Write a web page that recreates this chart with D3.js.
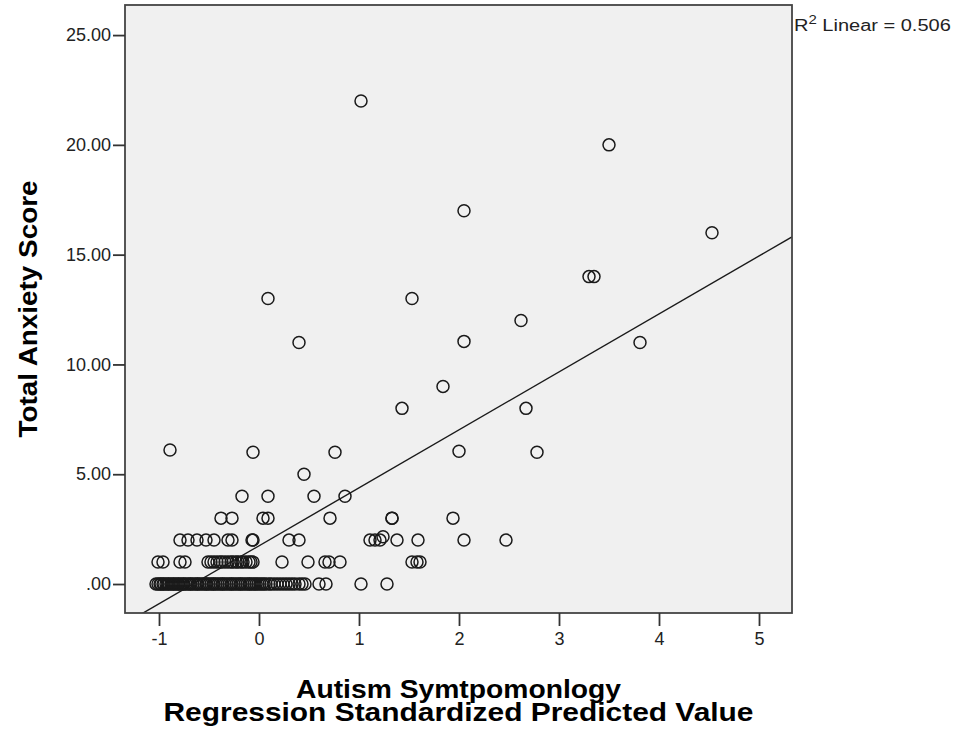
<!DOCTYPE html>
<html>
<head>
<meta charset="utf-8">
<script src="https://cdn.jsdelivr.net/npm/d3@7"></script>
<style>
  body { margin: 0; background: #fff; }
  svg { display: block; font-family: "Liberation Sans", Arial, sans-serif; }
</style>
</head>
<body>
<div id="chart"></div>
<script>
// points grouped by anxiety score, x = standardized predicted value
var score0 = [-1.03,-1.01,-0.99,-0.98,-0.96,-0.95,-0.93,-0.91,-0.90,-0.88,-0.86,-0.85,-0.83,-0.81,-0.80,-0.78,-0.76,-0.75,-0.73,-0.71,-0.69,-0.68,-0.66,-0.64,-0.62,-0.61,-0.59,-0.57,-0.55,-0.53,-0.52,-0.50,-0.48,-0.46,-0.45,-0.43,-0.41,-0.39,-0.37,-0.36,-0.34,-0.32,-0.30,-0.28,-0.27,-0.25,-0.23,-0.21,-0.19,-0.18,-0.16,-0.14,-0.12,-0.10,-0.09,-0.07,-0.05,-0.03,-0.01,0.01,0.03,0.05,0.07,0.10,0.12,0.15,0.18,0.21,0.24,0.27,0.30,0.33,0.36,0.40,0.43,0.46,0.60,0.67,1.02,1.28]
var score1 = [-1.01,-0.96,-0.79,-0.74,-0.51,-0.48,-0.45,-0.42,-0.39,-0.37,-0.34,-0.31,-0.28,-0.26,-0.23,-0.21,-0.18,-0.16,-0.13,-0.10,-0.08,-0.06,0.23,0.49,0.66,0.70,0.81,1.53,1.58,1.61]
var score2 = [-0.79,-0.71,-0.62,-0.53,-0.45,-0.31,-0.27,-0.07,-0.06,0.30,0.40,1.11,1.16,1.21,1.38,1.59,2.05,2.47]
var score3 = [-0.38,-0.27,0.04,0.09,0.71,1.33,1.33,1.94]
var score4 = [-0.17,0.09,0.55,0.86]
// remaining points as [predicted, score]
var otherPoints = [
  [1.24, 2.15], [0.45, 5],
  [-0.89, 6.1], [-0.06, 6], [0.76, 6], [2.00, 6.05], [2.78, 6],
  [1.43, 8], [2.67, 8], [1.84, 9],
  [0.40, 11], [2.05, 11.05], [3.81, 11],
  [2.62, 12], [0.09, 13], [1.53, 13],
  [3.30, 14], [3.35, 14], [4.53, 16], [2.05, 17],
  [3.50, 20], [1.02, 22]
]
var xTicks = [-1, 0, 1, 2, 3, 4, 5]
var yTicks = [0, 5, 10, 15, 20, 25]
// fit line
var fitIntercept = 1.74, fitSlope = 2.64
var rSquared = "0.506"

var data = []
;[score0, score1, score2, score3, score4].forEach(function(row, i){
  row.forEach(function(v){ data.push([v, i]) })
})
otherPoints.forEach(function(p){ data.push(p) })

var width = 967, height = 731
var margin = {left: 125, right: 792, top: 5, bottom: 613}

var x = d3.scaleLinear().domain([-1.34, 5.33]).range([margin.left, margin.right])
var y = d3.scaleLinear().domain([-1.32, 26.37]).range([margin.bottom, margin.top])

var pw = margin.right - margin.left, ph = margin.bottom - margin.top

var svg = d3.select("#chart").append("svg")
    .attr("width", width)
    .attr("height", height)

svg.append("defs").append("clipPath").attr("id", "plotclip")
  .append("rect")
    .attr("x", margin.left).attr("y", margin.top)
    .attr("width", pw).attr("height", ph)

svg.append("rect")
    .attr("x", margin.left).attr("y", margin.top)
    .attr("width", pw).attr("height", ph)
    .attr("fill", "#f0f0f0")

// fit line
var x0 = x.domain()[0], x1 = x.domain()[1]
svg.append("line")
    .attr("clip-path", "url(#plotclip)")
    .attr("x1", x(x0)).attr("y1", y(fitIntercept + fitSlope * x0))
    .attr("x2", x(x1)).attr("y2", y(fitIntercept + fitSlope * x1))
    .attr("stroke", "#1a1a1a")
    .attr("stroke-width", 1.4)

svg.append("g")
  .selectAll("circle")
    .data(data)
  .enter().append("circle")
    .attr("cx", function(d){ return x(d[0]) })
    .attr("cy", function(d){ return y(d[1]) })
    .attr("r", 6)
    .attr("fill", "none")
    .attr("stroke", "#1a1a1a")
    .attr("stroke-width", 1.5)

// frame
svg.append("rect")
    .attr("x", margin.left).attr("y", margin.top)
    .attr("width", pw).attr("height", ph)
    .attr("fill", "none")
    .attr("stroke", "#444")
    .attr("stroke-width", 1.8)

var yAxis = svg.append("g")
    .attr("transform", "translate(" + margin.left + ",0)")
    .call(d3.axisLeft(y).tickValues(yTicks).tickSize(12).tickPadding(2)
      .tickFormat(function(d){ return d === 0 ? ".00" : d.toFixed(2) }))
var xAxis = svg.append("g")
    .attr("transform", "translate(0," + margin.bottom + ")")
    .call(d3.axisBottom(x).tickValues(xTicks).tickSize(13).tickPadding(6)
      .tickFormat(function(d){ return String(d) }))

;[yAxis, xAxis].forEach(function(ax){
  ax.select(".domain").remove()
  ax.selectAll(".tick line").attr("stroke", "#333").attr("stroke-width", 1.8)
  ax.selectAll("text").attr("font-size", 18).attr("fill", "#222")
    .attr("font-family", "'Liberation Sans', Arial, sans-serif")
})

svg.append("text")
    .attr("transform", "translate(37," + ((margin.top + margin.bottom) / 2) + ") rotate(-90)")
    .attr("text-anchor", "middle")
    .attr("font-size", 25)
    .attr("font-weight", "bold")
    .attr("textLength", 257).attr("lengthAdjust", "spacingAndGlyphs")
    .text("Total Anxiety Score")

svg.append("text")
    .attr("x", (margin.left + margin.right) / 2).attr("y", 698)
    .attr("text-anchor", "middle")
    .attr("font-size", 26)
    .attr("font-weight", "bold")
    .attr("textLength", 325).attr("lengthAdjust", "spacingAndGlyphs")
    .text("Autism Symtpomonlogy")
svg.append("text")
    .attr("x", (margin.left + margin.right) / 2).attr("y", 721)
    .attr("text-anchor", "middle")
    .attr("font-size", 26)
    .attr("font-weight", "bold")
    .attr("textLength", 590).attr("lengthAdjust", "spacingAndGlyphs")
    .text("Regression Standardized Predicted Value")

// R squared note, slightly widened like the original
var r2 = svg.append("g")
    .attr("transform", "translate(794,31) scale(1.25,1)")
  .append("text")
    .attr("font-size", 16)
    .attr("fill", "#222")
r2.append("tspan").text("R")
r2.append("tspan").attr("dy", -7).attr("font-size", 12).text("2")
r2.append("tspan").attr("dy", 7).text(" Linear = " + rSquared)
</script>
</body>
</html>
